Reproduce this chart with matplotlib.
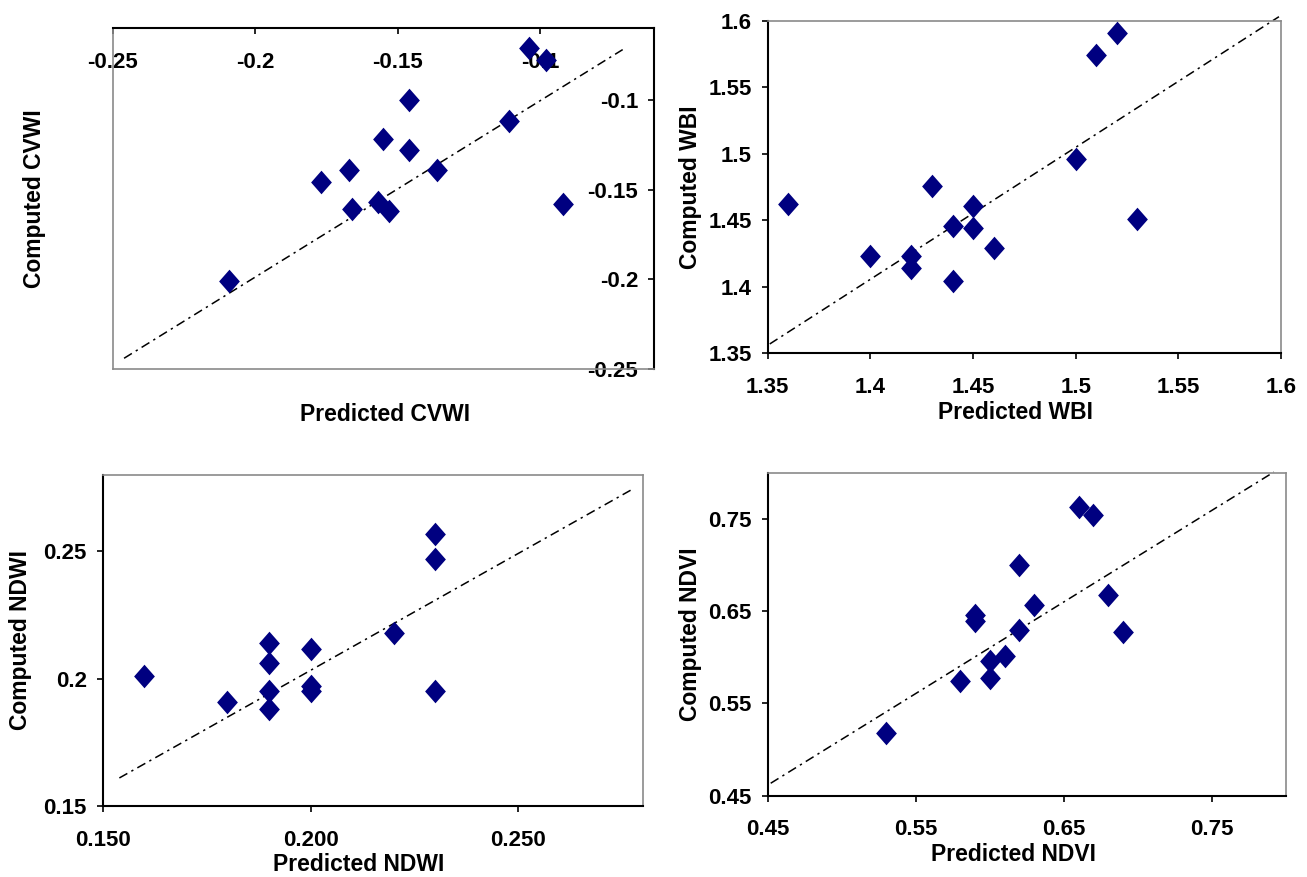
import matplotlib
matplotlib.use("Agg")
import matplotlib.pyplot as plt

plt.rcParams['font.family'] = ['Liberation Sans', 'DejaVu Sans']
plt.rcParams['font.weight'] = 'bold'

# ---- CVWI ----
cvwi_pred = [-0.209, -0.177, -0.167, -0.166, -0.155, -0.157, -0.153,
             -0.146, -0.146, -0.136, -0.111, -0.104, -0.098, -0.092]
cvwi_comp = [-0.201, -0.146, -0.139, -0.161, -0.122, -0.157, -0.162,
             -0.100, -0.128, -0.139, -0.112, -0.071, -0.078, -0.158]
cvwi_line_x = [-0.246, -0.071]
cvwi_line_y = [-0.244, -0.072]
cvwi_ticks = [-0.25, -0.2, -0.15, -0.1]
cvwi_ticklabels = ['-0.25', '-0.2', '-0.15', '-0.1']

# ---- WBI ----
wbi_pred = [1.36, 1.40, 1.42, 1.42, 1.43, 1.44, 1.44,
            1.45, 1.45, 1.46, 1.50, 1.51, 1.52, 1.53]
wbi_comp = [1.462, 1.423, 1.423, 1.414, 1.476, 1.446, 1.404,
            1.461, 1.444, 1.429, 1.496, 1.574, 1.591, 1.451]
wbi_line_x = [1.351, 1.599]
wbi_line_y = [1.357, 1.603]
wbi_ticks = [1.35, 1.4, 1.45, 1.5, 1.55, 1.6]
wbi_ticklabels = ['1.35', '1.4', '1.45', '1.5', '1.55', '1.6']

# ---- NDWI ----
ndwi_pred = [0.160, 0.180, 0.190, 0.190, 0.190, 0.190, 0.200,
             0.200, 0.200, 0.220, 0.230, 0.230, 0.230]
ndwi_comp = [0.201, 0.191, 0.214, 0.206, 0.195, 0.188, 0.2115,
             0.197, 0.195, 0.218, 0.257, 0.247, 0.195]
ndwi_line_x = [0.154, 0.277]
ndwi_line_y = [0.161, 0.274]
ndwi_xticks = [0.15, 0.20, 0.25]
ndwi_xticklabels = ['0.150', '0.200', '0.250']
ndwi_yticks = [0.15, 0.20, 0.25]
ndwi_yticklabels = ['0.15', '0.2', '0.25']

# ---- NDVI ----
ndvi_pred = [0.53, 0.58, 0.59, 0.59, 0.60, 0.60, 0.61,
             0.62, 0.62, 0.63, 0.66, 0.67, 0.68, 0.69]
ndvi_comp = [0.518, 0.574, 0.646, 0.640, 0.596, 0.578, 0.602,
             0.700, 0.630, 0.657, 0.763, 0.754, 0.668, 0.628]
ndvi_line_x = [0.452, 0.792]
ndvi_line_y = [0.4635, 0.801]
ndvi_ticks = [0.45, 0.55, 0.65, 0.75]
ndvi_ticklabels = ['0.45', '0.55', '0.65', '0.75']

MARKER_COLOR = '#000080'
BORDER_GRAY = '#8a8a8a'
TICK_SIZE = 16
LABEL_SIZE = 16.5
# slightly tall diamond
DIAMOND = [(-0.88, 0.0), (0.0, 1.0), (0.88, 0.0), (0.0, -1.0), (-0.88, 0.0)]

fig = plt.figure(figsize=(13.07, 8.77), dpi=100)


def panel(rect, pred, comp, line_x, line_y, xlim, ylim,
          xticks, xticklabels, yticks, yticklabels,
          xlabel, ylabel, xlabel_pos, ylabel_pos, axes_far=False):
    ax = fig.add_axes(rect)
    ax.plot(line_x, line_y, color='black', lw=1.1,
            linestyle=(0, (6, 3, 1.5, 3)), clip_on=False, zorder=2)
    ax.plot(pred, comp, linestyle='none', marker=DIAMOND, ms=17,
            color=MARKER_COLOR, mec=MARKER_COLOR, mew=0,
            clip_on=False, zorder=3)
    ax.set_xlim(xlim)
    ax.set_ylim(ylim)
    ax.set_xticks(xticks, xticklabels)
    ax.set_yticks(yticks, yticklabels)

    for s in ('left', 'bottom'):
        ax.spines[s].set_color('black')
        ax.spines[s].set_linewidth(1.5)
    for s in ('top', 'right'):
        ax.spines[s].set_color(BORDER_GRAY)
        ax.spines[s].set_linewidth(1.2)
    if axes_far:
        # value axes cross at the maximum: x axis along the top, y axis on the right
        ax.spines['bottom'].set_position(('axes', 1.0))
        ax.spines['left'].set_position(('axes', 1.0))
        ax.spines['top'].set_position(('axes', 0.0))
        ax.spines['right'].set_position(('axes', 0.0))

    ax.tick_params(axis='x', direction='out', length=4.5, width=1.2,
                   pad=12.5, labelsize=TICK_SIZE)
    ax.tick_params(axis='y', direction='out', length=4.5, width=1.2,
                   pad=7, labelsize=TICK_SIZE)

    ax.set_xlabel(xlabel, fontsize=LABEL_SIZE, fontweight='bold')
    ax.set_ylabel(ylabel, fontsize=LABEL_SIZE, fontweight='bold')
    ax.xaxis.label.set_verticalalignment('center')
    ax.yaxis.label.set_verticalalignment('center')
    ax.xaxis.set_label_coords(*xlabel_pos)
    ax.yaxis.set_label_coords(*ylabel_pos)
    return ax


panel([0.0862, 0.5792, 0.4142, 0.3888], cvwi_pred, cvwi_comp,
      cvwi_line_x, cvwi_line_y, (-0.25, -0.06), (-0.25, -0.06),
      cvwi_ticks, cvwi_ticklabels, cvwi_ticks, cvwi_ticklabels,
      'Predicted CVWI', 'Computed CVWI', (0.503, -0.132), (-0.1435, 0.5),
      axes_far=True)

panel([0.5874, 0.5972, 0.3927, 0.3792], wbi_pred, wbi_comp,
      wbi_line_x, wbi_line_y, (1.35, 1.6), (1.35, 1.6),
      wbi_ticks, wbi_ticklabels, wbi_ticks, wbi_ticklabels,
      'Predicted WBI', 'Computed WBI', (0.482, -0.1795), (-0.151, 0.5))

panel([0.0786, 0.0810, 0.4134, 0.3774], ndwi_pred, ndwi_comp,
      ndwi_line_x, ndwi_line_y, (0.15, 0.28), (0.15, 0.28),
      ndwi_xticks, ndwi_xticklabels, ndwi_yticks, ndwi_yticklabels,
      'Predicted NDWI', 'Computed NDWI', (0.474, -0.178), (-0.153, 0.5))

panel([0.5874, 0.0927, 0.3963, 0.3680], ndvi_pred, ndvi_comp,
      ndvi_line_x, ndvi_line_y, (0.45, 0.80), (0.45, 0.80),
      ndvi_ticks, ndvi_ticklabels, ndvi_ticks, ndvi_ticklabels,
      'Predicted NDVI', 'Computed NDVI', (0.4736, -0.181), (-0.15, 0.5))

fig.savefig('out.png', dpi=100)
